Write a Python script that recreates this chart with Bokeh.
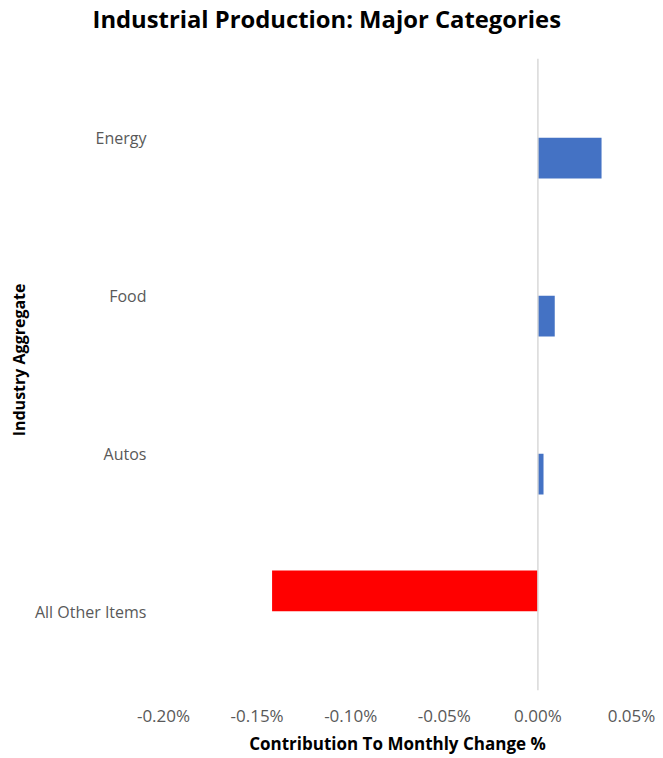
from bokeh.plotting import figure
from bokeh.models import FactorRange, Span, FixedTicker, PrintfTickFormatter, ColumnDataSource, Title
from bokeh.transform import dodge
from bokeh.embed import file_html
from bokeh.resources import INLINE

# Data
categories = ["Energy", "Food", "Autos", "All Other Items"]
increase = [0.034, 0.009, 0.003, 0.0]     # contribution, % points (positive series)
decrease = [0.0, 0.0, 0.0, -0.142]       # contribution, % points (negative series)
x_ticks = [-0.20, -0.15, -0.10, -0.05, 0.00, 0.05]

FONT = "Open Sans"

src = ColumnDataSource(dict(cat=categories, inc=increase, dec=decrease))

p = figure(
    width=660, height=757,
    y_range=FactorRange(factors=list(reversed(categories))),
    x_range=(-0.20, 0.05),
    output_backend="svg", toolbar_location=None,
    min_border_left=163, min_border_right=29, min_border_top=56, min_border_bottom=64,
)
# main title outermost, a blank spacer title between it and the frame
p.title = Title(text="Industrial Production: Major Categories", align="left", offset=-71,
                standoff=0, text_font=FONT, text_font_size="23.8px", text_font_style="bold",
                text_color="#000000")
p.add_layout(Title(text=" ", text_font_size="1px", standoff=21), "above")

# y-axis title placed as a left-side title so it can sit slightly above centre
p.add_layout(Title(text="Industry Aggregate", align="right", offset=225, standoff=4,
                   text_font=FONT, text_font_size="16px", text_font_style="bold",
                   text_color="#000000"), "left")

p.hbar(y=dodge("cat", -0.13, range=p.y_range), left=0, right="inc", height=0.258,
       source=src, fill_color="#4472C4", line_color=None)
p.hbar(y=dodge("cat", 0.13, range=p.y_range), left=0, right="dec", height=0.258,
       source=src, fill_color="#FF0000", line_color=None)

p.add_layout(Span(location=0, dimension="height", line_color="#D9D9D9", line_width=1.5))

p.outline_line_color = None
p.xgrid.visible = False
p.ygrid.visible = False

for ax in (p.xaxis, p.yaxis):
    ax.axis_line_color = None
    ax.major_tick_line_color = None
    ax.minor_tick_line_color = None
    ax.major_tick_out = 0
    ax.major_tick_in = 0
    ax.minor_tick_out = 0
    ax.minor_tick_in = 0
    ax.major_label_text_font = FONT
    ax.major_label_text_color = "#595959"
    ax.axis_label_text_font = FONT
    ax.axis_label_text_font_style = "bold"
    ax.axis_label_text_color = "#000000"

p.xaxis.ticker = FixedTicker(ticks=x_ticks)
p.xaxis.formatter = PrintfTickFormatter(format="%.2f%%")
p.xaxis.major_label_text_font_size = "17px"
p.xaxis.major_label_standoff = 13
p.xaxis.axis_label = "Contribution To Monthly Change %"
p.xaxis.axis_label_text_font_size = "17px"
p.xaxis.axis_label_standoff = 2

p.yaxis.major_label_text_font_size = "16px"
p.yaxis.major_label_standoff = 17

open("out.html", "w").write(file_html(p, INLINE))
